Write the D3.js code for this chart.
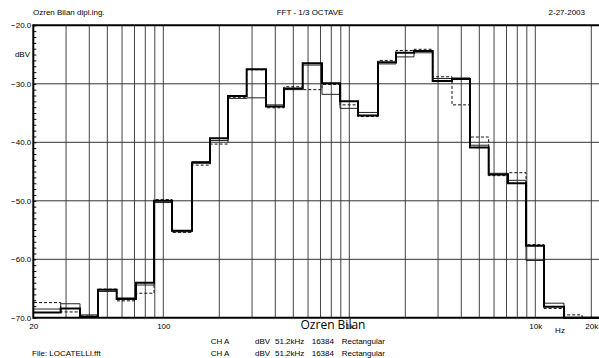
<!DOCTYPE html>
<html>
<head>
<meta charset="utf-8">
<script src="https://cdn.jsdelivr.net/npm/d3@7"></script>
<style>
  body { margin: 0; background: #fff; }
  text { font-family: Arial, "Liberation Sans", sans-serif; }
</style>
</head>
<body>
<div id="chart"></div>
<script>
// 1/3 octave band centres (Hz)
var bands = [20, 25, 31.5, 40, 50, 63, 80, 100, 125, 160, 200, 250, 315, 400, 500, 630,
             800, 1000, 1250, 1600, 2000, 2500, 3150, 4000, 5000, 6300, 8000, 10000,
             12500, 16000, 20000];

// three measurements, dBV per band
var traceThick = [-69.1, -69.1, -68.4, -69.8, -65.2, -66.8, -64.0, -50.0, -55.1, -43.5, -39.3,
                  -32.1, -27.5, -33.9, -30.8, -26.5, -29.9, -33.0, -35.4, -26.3, -24.7, -24.4,
                  -29.5, -29.2, -40.9, -45.5, -47.0, -57.7, -68.1, -70.0, -70.0];
var traceThin  = [-68.5, -68.5, -67.6, -69.5, -65.5, -66.6, -64.4, -50.3, -55.3, -43.3, -39.7,
                  -32.5, -32.4, -33.6, -31.0, -26.8, -31.8, -34.2, -34.9, -26.6, -25.4, -24.7,
                  -29.1, -29.0, -40.5, -45.3, -46.5, -60.2, -67.5, -70.0, -70.0];
var traceDash  = [-67.4, -67.4, -69.0, -69.7, -65.1, -67.1, -65.8, -49.8, -55.4, -43.9, -40.3,
                  -32.3, -27.6, -34.1, -30.5, -31.0, -30.1, -33.6, -35.6, -26.0, -24.3, -24.1,
                  -28.8, -33.6, -39.1, -45.7, -45.2, -57.5, -68.4, -69.5, -70.0];

var xTickValues = [20, 100, 1000, 10000, 20000];
var xTickLabels = ["20", "100", "1k", "10k", "20k"];
var yTickValues = [-20, -30, -40, -50, -60, -70];

var W = 599, H = 358;
var pLeft = 33.3, pRight = 599, pTop = 25.3, pBottom = 317.8;

var svg = d3.select("#chart")
  .append("svg")
    .attr("width", W)
    .attr("height", H);

var x = d3.scaleLog()
  .domain([20, 20000])
  .range([pLeft, 591.3]);

var y = d3.scaleLinear()
  .domain([-70, -20])
  .range([pBottom, pTop]);

// grid lines (decades)
var gridF = [];
[10, 100, 1000].forEach(function(d) {
  for (var k = 1; k <= 9; k++) gridF.push(d * k);
});
gridF.push(10000, 20000);
gridF = gridF.filter(function(f) { return f > 20 && f <= 20000; });

svg.append("g")
  .selectAll("line")
  .data(gridF)
  .enter()
  .append("line")
    .attr("x1", function(d) { return x(d); })
    .attr("x2", function(d) { return x(d); })
    .attr("y1", pTop)
    .attr("y2", pBottom)
    .attr("stroke", "#444")
    .attr("stroke-width", 1);

svg.append("g")
  .selectAll("line")
  .data([-30, -40, -50, -60])
  .enter()
  .append("line")
    .attr("x1", pLeft)
    .attr("x2", pRight)
    .attr("y1", function(d) { return y(d); })
    .attr("y2", function(d) { return y(d); })
    .attr("stroke", "#333")
    .attr("stroke-width", 1);

// clip for traces
svg.append("clipPath")
    .attr("id", "plot")
  .append("rect")
    .attr("x", pLeft)
    .attr("y", pTop - 2)
    .attr("width", pRight - pLeft)
    .attr("height", pBottom - pTop + 4);

// step path from band edges
var edgeK = Math.pow(10, -1 / 20);
function stepData(vals) {
  var pts = bands.map(function(f, i) { return [f * edgeK, vals[i]]; });
  pts.push([bands[bands.length - 1] / edgeK, vals[vals.length - 1]]);
  return pts;
}
var step = d3.line()
  .x(function(d) { return x(d[0]); })
  .y(function(d) { return y(d[1]); })
  .curve(d3.curveStepAfter);

var traces = svg.append("g").attr("clip-path", "url(#plot)");

traces.append("path")
  .attr("d", step(stepData(traceDash)))
  .attr("fill", "none")
  .attr("stroke", "#111")
  .attr("stroke-width", 1)
  .attr("stroke-dasharray", "3,2");

traces.append("path")
  .attr("d", step(stepData(traceThin)))
  .attr("fill", "none")
  .attr("stroke", "#222")
  .attr("stroke-width", 1);

traces.append("path")
  .attr("d", step(stepData(traceThick)))
  .attr("fill", "none")
  .attr("stroke", "#000")
  .attr("stroke-width", 2);

// frame
svg.append("line")
  .attr("x1", pLeft).attr("x2", pRight)
  .attr("y1", pTop).attr("y2", pTop)
  .attr("stroke", "#000").attr("stroke-width", 2);
svg.append("line")
  .attr("x1", pLeft).attr("x2", pRight)
  .attr("y1", pBottom).attr("y2", pBottom)
  .attr("stroke", "#000").attr("stroke-width", 2);
svg.append("line")
  .attr("x1", pLeft).attr("x2", pLeft)
  .attr("y1", pTop - 1).attr("y2", pBottom + 1)
  .attr("stroke", "#000").attr("stroke-width", 2);

// minor ticks every 1 dB
svg.append("g")
    .attr("transform", "translate(" + pLeft + ",0)")
    .call(d3.axisRight(y).tickValues(d3.range(-70, -19, 1)).tickSize(3).tickFormat(""))
    .call(function(g) { g.select(".domain").remove(); })
    .selectAll("line")
      .attr("stroke", "#000");

// Y axis labels
svg.append("g")
    .attr("transform", "translate(" + (pLeft - 1) + ",0)")
    .call(d3.axisLeft(y).tickValues(yTickValues).tickSize(0).tickPadding(1)
      .tickFormat(d3.format(".1f")))
    .call(function(g) { g.select(".domain").remove(); })
    .selectAll("text")
      .attr("font-size", "8px")
      .attr("fill", "#000")
      .style("font-family", "Arial, 'Liberation Sans', sans-serif");

svg.append("text")
  .attr("x", 30).attr("y", 57)
  .attr("text-anchor", "end")
  .attr("font-size", "8px")
  .text("dBV");

// X axis labels
svg.append("g")
    .attr("transform", "translate(0," + (pBottom + 3) + ")")
    .call(d3.axisBottom(x).tickValues(xTickValues).tickSize(0).tickPadding(3)
      .tickFormat(function(d, i) { return xTickLabels[i]; }))
    .call(function(g) { g.select(".domain").remove(); })
    .selectAll("text")
      .attr("font-size", "8px")
      .attr("fill", "#000")
      .style("font-family", "Arial, 'Liberation Sans', sans-serif");

svg.append("text")
  .attr("x", 560).attr("y", 333)
  .attr("text-anchor", "middle")
  .attr("font-size", "8px")
  .text("Hz");

// header
svg.append("text")
  .attr("x", 33).attr("y", 15)
  .attr("font-size", "8px")
  .text("Ozren Bilan dipl.ing.");
svg.append("text")
  .attr("x", 310).attr("y", 15)
  .attr("text-anchor", "middle")
  .attr("font-size", "8px")
  .text("FFT - 1/3 OCTAVE");
svg.append("text")
  .attr("x", 585).attr("y", 15)
  .attr("text-anchor", "end")
  .attr("font-size", "8px")
  .text("2-27-2003");

// footer
svg.append("text")
  .attr("x", 333).attr("y", 329)
  .attr("text-anchor", "middle")
  .attr("font-size", "12px")
  .style("font-family", "'Open Sans', sans-serif")
  .text("Ozren Bilan");

var footCols = [["CH A", 210.7], ["dBV", 255], ["51.2kHz", 275], ["16384", 311.7], ["Rectangular", 341.7]];
[344, 355.5].forEach(function(yy) {
  footCols.forEach(function(c) {
    svg.append("text")
      .attr("x", c[1]).attr("y", yy)
      .attr("font-size", "8px")
      .text(c[0]);
  });
});
svg.append("text")
  .attr("x", 32).attr("y", 355.5)
  .attr("font-size", "8px")
  .text("File: LOCATELLI.fft");
</script>
</body>
</html>
